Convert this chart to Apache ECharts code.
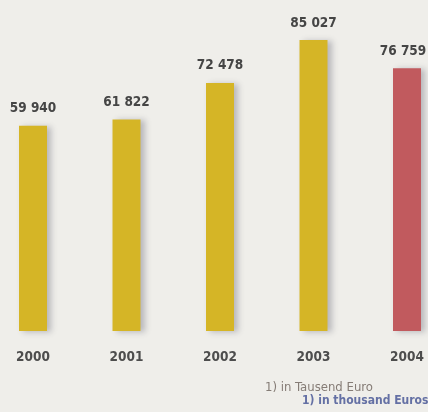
<!DOCTYPE html>
<html>
<head>
<meta charset="utf-8">
<script src="https://cdn.jsdelivr.net/npm/echarts@6/dist/echarts.min.js"></script>
<style>
  html, body { margin: 0; padding: 0; background: #efeeea; }
  #main { width: 428px; height: 412px; }
</style>
</head>
<body>
<div id="main"></div>
<script>
  // Werte in Tausend Euro
  var years = ['2000', '2001', '2002', '2003', '2004'];
  var values = [59940, 61822, 72478, 85027, 76759];
  var notes = ['1) in Tausend Euro', '1) in thousand Euros'];

  var gold = '#d5b526';
  var red = '#c15a5e';
  var font = '"DejaVu Sans Condensed", sans-serif';

  function fmt(v) {
    // Tausendertrennung mit Leerzeichen
    return String(v).replace(/\B(?=(\d{3})+(?!\d))/g, ' ');
  }

  var option = {
    backgroundColor: '#efeeea',
    animation: false,
    grid: {
      left: 33,
      right: 21,
      top: 23,
      bottom: 81
    },
    xAxis: {
      type: 'category',
      data: years,
      boundaryGap: false,
      axisLine: { show: false },
      axisTick: { show: false },
      axisLabel: {
        margin: 19,
        color: '#4d4d4d',
        fontFamily: font,
        fontWeight: 'bold',
        fontSize: 13.5
      }
    },
    yAxis: {
      type: 'value',
      min: 0,
      max: 90000,
      show: false
    },
    series: [{
      type: 'bar',
      barWidth: 28,
      data: values.map(function (v, i) {
        return {
          value: v,
          itemStyle: { color: i === values.length - 1 ? red : gold },
          label: i === values.length - 1 ? { offset: [-4, 0] } : undefined
        };
      }),
      itemStyle: {
        shadowColor: 'rgba(60,60,80,0.3)',
        shadowBlur: 6,
        shadowOffsetX: 4,
        shadowOffsetY: 1
      },
      label: {
        show: true,
        position: 'top',
        distance: 10,
        color: '#454545',
        fontFamily: font,
        fontWeight: 'bold',
        fontSize: 13.5,
        formatter: function (p) { return fmt(p.value); }
      }
    }],
    graphic: [{
      type: 'text',
      left: 265,
      top: 381,
      style: {
        text: notes[0],
        fill: '#857c76',
        font: '13px ' + font
      }
    }, {
      type: 'text',
      left: 302,
      top: 395,
      style: {
        text: notes[1],
        fill: '#6470a4',
        font: 'bold 12px ' + font
      }
    }]
  };

  echarts.init(document.getElementById('main')).setOption(option);
</script>
</body>
</html>
